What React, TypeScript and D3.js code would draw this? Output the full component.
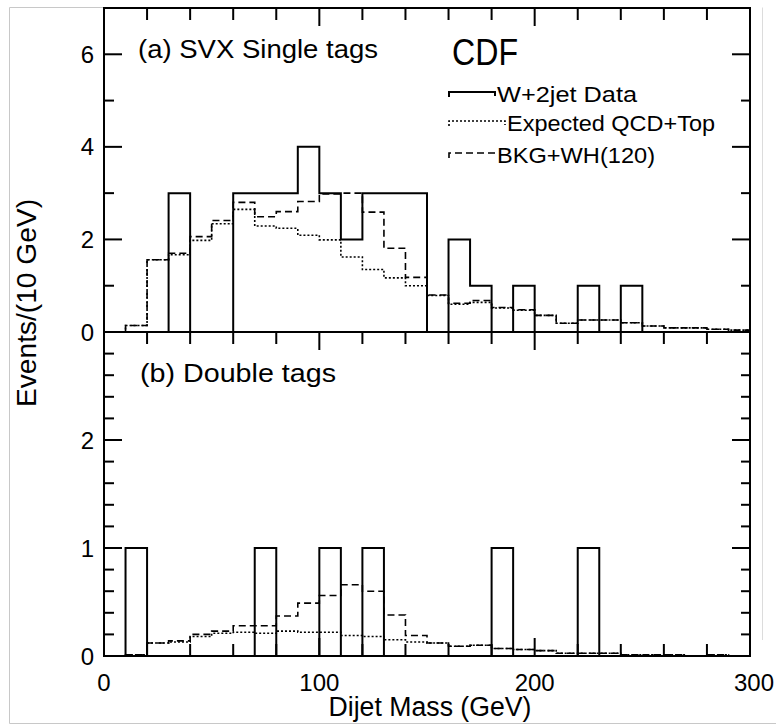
import React from "react";
import * as d3 from "d3";

// Bin lower edges (GeV), 10 GeV bins from 0 to 300
const binEdges = [0,10,20,30,40,50,60,70,80,90,100,110,120,130,140,150,160,170,180,190,200,210,220,230,240,250,260,270,280,290];

// (a) SVX Single tags
const topData = [0,0,0,3,0,0,3,3,3,4,3,2,3,3,3,0,2,1,0,1,0,0,1,0,1,0,0,0,0,0];
const topQcd = [0,0.14,1.56,1.67,1.98,2.34,2.65,2.29,2.24,2.09,1.99,1.62,1.35,1.17,1.0,0.79,0.6,0.64,0.52,0.47,0.36,0.19,0.26,0.26,0.2,0.13,0.09,0.09,0.06,0.04];
const topWH = [0,0.14,1.56,1.7,2.06,2.41,2.8,2.49,2.6,2.82,2.98,3.0,2.59,1.81,1.18,0.8,0.62,0.68,0.53,0.48,0.36,0.19,0.26,0.26,0.2,0.13,0.09,0.09,0.06,0.04];

// (b) Double tags
const botData = [0,1,0,0,0,0,0,1,0,0,1,0,1,0,0,0,0,0,1,0,0,0,1,0,0,0,0,0,0,0];
const botQcd = [0,0.01,0.12,0.13,0.18,0.21,0.22,0.21,0.23,0.22,0.22,0.19,0.18,0.15,0.13,0.12,0.09,0.1,0.07,0.06,0.05,0.025,0.025,0.025,0.012,0.01,0.01,0,0.01,0];
const botWH = [0,0.01,0.12,0.14,0.2,0.23,0.28,0.28,0.37,0.49,0.56,0.66,0.6,0.38,0.19,0.12,0.09,0.1,0.07,0.06,0.05,0.025,0.025,0.025,0.012,0.01,0.01,0,0.01,0];

const xTickLabels = [0, 100, 200, 300];
const xMinorTicks = [20,40,60,80,100,120,140,160,180,200,220,240,260,280];
const topYMajor = [0, 2, 4, 6];
const topYMinor = [1, 3, 5];
const botYMajor = [0, 1, 2];
const botYMinor = [0.2,0.4,0.6,0.8,1.2,1.4,1.6,1.8,2.2,2.4,2.6,2.8];

const legendItems = [
  { label: "W+2jet Data", dash: "none", width: 2, textLen: 140 },
  { label: "Expected QCD+Top", dash: "2,2", width: 1.6, textLen: 208 },
  { label: "BKG+WH(120)", dash: "7,4", width: 1.6, textLen: 158 },
];

const FONT = "'Liberation Sans', Arial, Helvetica, sans-serif";

export default function App() {
  const L = 104, R = 750, T = 8, M = 332, B = 656;
  const x = d3.scaleLinear().domain([0, 300]).range([L, R]);
  const yTop = d3.scaleLinear().domain([0, 7]).range([M, T]);
  const yBot = d3.scaleLinear().domain([0, 3]).range([B, M]);

  const step = (vals: number[], y: d3.ScaleLinear<number, number>) => {
    const pts: [number, number][] = vals.map((v, i) => [binEdges[i], v]);
    pts.push([300, vals[vals.length - 1]]);
    return d3.line<[number, number]>()
      .x((d) => x(d[0]))
      .y((d) => y(d[1]))
      .curve(d3.curveStepAfter)(pts) || "";
  };

  const series = [
    { y: yTop, data: topData, qcd: topQcd, wh: topWH },
    { y: yBot, data: botData, qcd: botQcd, wh: botWH },
  ];

  return (
    <svg width={776} height={726} style={{ position: "absolute", left: 0, top: 0, background: "#fff" }}
      fontFamily={FONT}>
      {/* outer light frame */}
      <g stroke="#c8c8c8" strokeWidth={1} fill="none">
        <line x1={9.5} y1={7.5} x2={9.5} y2={723.5} />
        <line x1={9.5} y1={7.5} x2={L} y2={7.5} />
        <line x1={9.5} y1={723.5} x2={776} y2={723.5} />
        <line x1={762.5} y1={7.5} x2={762.5} y2={640} stroke="#dcdcdc" />
      </g>

      {/* histograms */}
      {series.map((s, k) => (
        <g key={k} fill="none" stroke="#000">
          <path d={step(s.qcd, s.y)} strokeWidth={1.6} strokeDasharray="2,2" />
          <path d={step(s.wh, s.y)} strokeWidth={1.6} strokeDasharray="7,4" />
          <path d={step(s.data, s.y)} strokeWidth={2} />
        </g>
      ))}

      {/* frames */}
      <g fill="none" stroke="#000" strokeWidth={2}>
        <rect x={L} y={T} width={R - L} height={B - T} />
        <line x1={L} y1={M} x2={R} y2={M} />
      </g>

      {/* x ticks: top of top panel, boundary, bottom */}
      <g stroke="#000" strokeWidth={2}>
        {xMinorTicks.map((v) => {
          const len = v % 100 === 0 ? 18 : 12;
          return (
            <g key={v}>
              <line x1={x(v)} x2={x(v)} y1={T} y2={T + len} />
              <line x1={x(v)} x2={x(v)} y1={M} y2={M + len} />
              <line x1={x(v)} x2={x(v)} y1={B} y2={B - len} />
            </g>
          );
        })}
        {topYMajor.map((v) => (
          <g key={"tM" + v}>
            <line x1={L} x2={L + 18} y1={yTop(v)} y2={yTop(v)} />
            <line x1={R} x2={R - 18} y1={yTop(v)} y2={yTop(v)} />
          </g>
        ))}
        {topYMinor.map((v) => (
          <g key={"tm" + v}>
            <line x1={L} x2={L + 10} y1={yTop(v)} y2={yTop(v)} />
            <line x1={R} x2={R - 9} y1={yTop(v)} y2={yTop(v)} />
          </g>
        ))}
        {botYMajor.map((v) => (
          <g key={"bM" + v}>
            <line x1={L} x2={L + 18} y1={yBot(v)} y2={yBot(v)} />
            <line x1={R} x2={R - 18} y1={yBot(v)} y2={yBot(v)} />
          </g>
        ))}
        {botYMinor.map((v) => (
          <g key={"bm" + v}>
            <line x1={L} x2={L + 10} y1={yBot(v)} y2={yBot(v)} />
            <line x1={R} x2={R - 9} y1={yBot(v)} y2={yBot(v)} />
          </g>
        ))}
      </g>

      {/* y tick labels */}
      <g fontSize={24} textAnchor="end" fill="#000">
        {topYMajor.map((v) => (
          <text key={"tl" + v} x={94} y={yTop(v)} dy="0.36em">{v}</text>
        ))}
        {botYMajor.map((v) => (
          <text key={"bl" + v} x={94} y={yBot(v)} dy="0.36em">{v}</text>
        ))}
      </g>

      {/* x tick labels */}
      <g fontSize={24} textAnchor="middle" fill="#000">
        {xTickLabels.map((v) => (
          <text key={"xl" + v} x={x(v) + (v === 300 ? 4 : 0)} y={691}>{v}</text>
        ))}
      </g>

      {/* axis titles */}
      <text x={430} y={716} fontSize={27} textAnchor="middle" textLength={203} lengthAdjust="spacingAndGlyphs">Dijet Mass (GeV)</text>
      <text transform="translate(36,303) rotate(-90)" fontSize={27} textAnchor="middle" textLength={208} lengthAdjust="spacingAndGlyphs">Events/(10 GeV)</text>

      {/* panel labels */}
      <text x={138} y={58} fontSize={26} textLength={240} lengthAdjust="spacingAndGlyphs">(a) SVX Single tags</text>
      <text x={140} y={382} fontSize={26} textLength={196} lengthAdjust="spacingAndGlyphs">(b) Double tags</text>
      <text x={452} y={65} fontSize={37} textLength={66} lengthAdjust="spacingAndGlyphs">CDF</text>

      {/* legend */}
      {legendItems.map((it, i) => {
        const base = [102, 131, 163][i];
        const ly = base - 10;
        const x0 = 449, x1 = i === 1 ? 505 : 495;
        return (
          <g key={it.label}>
            <path d={`M${x0},${ly + 5}V${ly}H${x1}V${ly + 4}`} fill="none" stroke="#000"
              strokeWidth={it.width} strokeDasharray={it.dash} />
            <text x={x1 + 2} y={base} fontSize={22} textLength={it.textLen} lengthAdjust="spacingAndGlyphs">{it.label}</text>
          </g>
        );
      })}
    </svg>
  );
}
